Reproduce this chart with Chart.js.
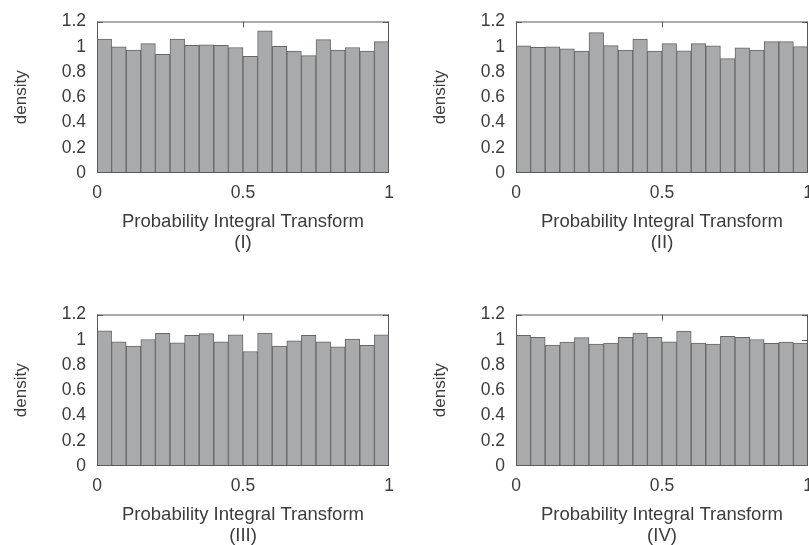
<!DOCTYPE html>
<html><head><meta charset="utf-8">
<script src="https://cdn.jsdelivr.net/npm/chart.js@4"></script>
<style>
html,body{margin:0;padding:0;background:#fff;overflow:hidden;width:809px;height:545px;}
canvas{position:absolute;}
</style></head><body>
<canvas id="c1" width="404" height="272" style="left:0px;top:0px"></canvas>
<canvas id="c2" width="390" height="272" style="left:419px;top:0px"></canvas>
<canvas id="c3" width="404" height="272" style="left:0px;top:293px"></canvas>
<canvas id="c4" width="390" height="272" style="left:419px;top:293px"></canvas>
<script>
// ---- data ----
const binCenters = [0.025,0.075,0.125,0.175,0.225,0.275,0.325,0.375,0.425,0.475,
                    0.525,0.575,0.625,0.675,0.725,0.775,0.825,0.875,0.925,0.975];
const densityI   = [1.060,1.000,0.973,1.025,0.940,1.060,1.012,1.015,1.012,0.994,
                    0.924,1.127,1.004,0.965,0.930,1.056,0.973,0.994,0.965,1.040];
const densityII  = [1.007,0.996,0.999,0.984,0.965,1.112,1.009,0.973,1.061,0.965,
                    1.025,0.968,1.025,1.007,0.906,0.991,0.973,1.040,1.040,1.002];
const densityIII = [1.071,0.984,0.950,1.002,1.051,0.976,1.035,1.048,0.984,1.038,
                    0.907,1.053,0.950,0.992,1.035,0.984,0.943,1.005,0.955,1.038];
const densityIV  = [1.035,1.020,0.958,0.981,1.017,0.966,0.974,1.020,1.053,1.020,
                    0.984,1.069,0.974,0.966,1.028,1.020,1.002,0.971,0.981,0.974];
const xTicks = [0, 0.5, 1];
const yTicks = [0, 0.2, 0.4, 0.6, 0.8, 1, 1.2];
const yLabel = 'density';
const xLabel = 'Probability Integral Transform';
const panelLabels = ['(I)', '(II)', '(III)', '(IV)'];

// ---- style ----
const textColor = '#3c3c3c';
const axisColor = '#5a5a5a';
const barFill = '#a9aaac';
const barEdge = '#666666';
const fontFamily = '"Liberation Sans", Arial, Helvetica, sans-serif';

const framePlugin = {
  id: 'frame',
  beforeDatasetsDraw(chart) {
    const {ctx, chartArea: a, scales: {x, y}} = chart;
    ctx.save();
    ctx.strokeStyle = axisColor;
    ctx.lineWidth = 1;
    ctx.beginPath();
    const L = 6;
    const clampX = p => Math.min(Math.max(p, a.left + 0.5), a.right - 0.5);
    const clampY = p => Math.min(Math.max(p, a.top + 0.5), a.bottom - 0.5);
    xTicks.forEach(v => {
      const px = clampX(Math.round(x.getPixelForValue(v)) + 0.5);
      ctx.moveTo(px, a.bottom); ctx.lineTo(px, a.bottom - L);
      ctx.moveTo(px, a.top); ctx.lineTo(px, a.top + L);
    });
    yTicks.forEach(v => {
      const py = clampY(Math.round(y.getPixelForValue(v)) + 0.5);
      ctx.moveTo(a.left, py); ctx.lineTo(a.left + L, py);
      ctx.moveTo(a.right, py); ctx.lineTo(a.right - L, py);
    });
    ctx.stroke();
    ctx.restore();
  },
  afterDatasetsDraw(chart) {
    const {ctx, chartArea: a} = chart;
    ctx.save();
    ctx.strokeStyle = axisColor;
    ctx.lineWidth = 1;
    ctx.strokeRect(a.left + 0.5, a.top + 0.5, a.right - a.left - 1, a.bottom - a.top - 1);
    ctx.restore();
  }
};

function makeChart(id, values, panelLabel, rightPad) {
  const tickFont = {family: fontFamily, size: 17.5};
  new Chart(document.getElementById(id), {
    type: 'bar',
    data: {
      datasets: [{
        data: binCenters.map((c, i) => ({x: c, y: values[i]})),
        backgroundColor: barFill,
        borderColor: barEdge,
        borderWidth: 1,
        borderSkipped: false,
        barPercentage: 1,
        categoryPercentage: 1
      }]
    },
    options: {
      responsive: false,
      devicePixelRatio: 1,
      animation: false,
      events: [],
      layout: {padding: {left: 0, top: 17, right: rightPad, bottom: 0}},
      plugins: {legend: {display: false}, tooltip: {enabled: false}},
      scales: {
        x: {
          type: 'linear', min: 0, max: 1, offset: false,
          grid: {display: false, drawTicks: false},
          border: {display: false},
          afterBuildTicks: s => { s.ticks = xTicks.map(v => ({value: v})); },
          afterFit: s => { s.height = 99; s.paddingLeft = 0; s.paddingRight = 0; },
          ticks: {padding: 10, font: tickFont, color: textColor, maxRotation: 0, autoSkip: false,
                  callback: v => String(v)},
          title: {display: true, text: [xLabel, panelLabel], color: textColor,
                  font: {family: fontFamily, size: 18.5, lineHeight: 1.135},
                  padding: {top: 0, bottom: 18.5}}
        },
        y: {
          type: 'linear', min: 0, max: 1.2,
          grid: {display: false, drawTicks: false},
          border: {display: false},
          afterBuildTicks: s => { s.ticks = yTicks.map(v => ({value: v})); },
          afterFit: s => { s.width = 97; },
          ticks: {padding: 11, font: tickFont, color: textColor, callback: v => String(v)},
          title: {display: true, text: yLabel, color: textColor,
                  font: {family: fontFamily, size: 17, lineHeight: 1.2},
                  padding: {top: 11.5, bottom: 0}}
        }
      }
    },
    plugins: [framePlugin]
  });
}

makeChart('c1', densityI, panelLabels[0], 15);
makeChart('c2', densityII, panelLabels[1], 1);
makeChart('c3', densityIII, panelLabels[2], 15);
makeChart('c4', densityIV, panelLabels[3], 1);
</script>
</body></html>
